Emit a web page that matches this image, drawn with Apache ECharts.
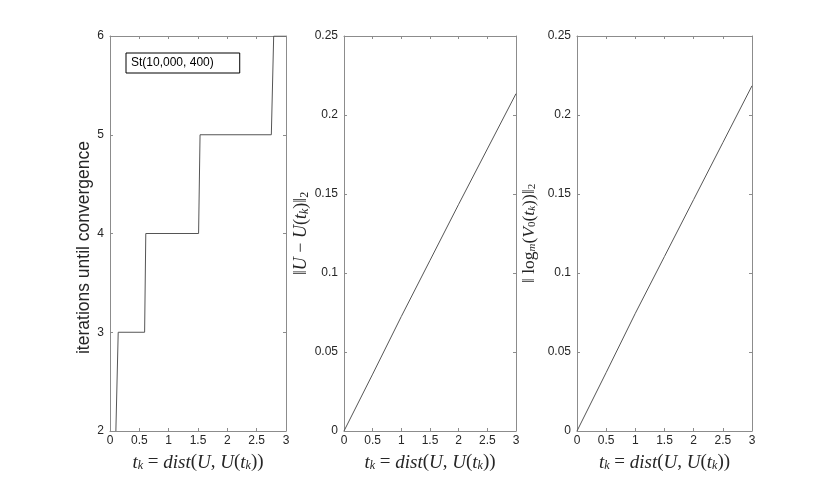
<!DOCTYPE html>
<html>
<head>
<meta charset="utf-8">
<script src="https://cdn.jsdelivr.net/npm/echarts@6/dist/echarts.min.js"></script>
<style>
  html, body { margin: 0; background: #fff; }
  #chart { width: 830px; height: 485px; }
</style>
</head>
<body>
<div id="chart"></div>
<script>
// panel 1: iterations until convergence (step curve)
var stepT = [0.1, 0.14, 0.59, 0.61, 1.51, 1.535, 2.75, 2.79, 3];
var stepIter = [2, 3, 3, 4, 4, 5, 5, 6, 6];
var seriesName = 'St(10,000, 400)';

// panels 2 and 3
var tk = [0, 0.5, 1, 1.5, 2, 2.5, 3];
var normU = [0, 0.036, 0.0725, 0.108, 0.1435, 0.1785, 0.2135];
var normLog = [0, 0.037, 0.0745, 0.1105, 0.1465, 0.1825, 0.2185];

// axis limits [min, max, interval]
var xLim = [0, 3, 0.5];
var yLim1 = [2, 6, 1];
var yLim2 = [0, 0.25, 0.05];

var frameColor = '#8c8c8c';
var textColor = '#262626';
var lineColor = '#555555';

function pairs(xs, ys) {
  return xs.map((x, i) => [x, ys[i]]);
}

function mathStyles(size) {
  var sub = Math.round(size * 0.65);
  return {
    n: { fontFamily: 'Liberation Serif', fontSize: size, color: textColor },
    i: { fontFamily: 'Liberation Serif', fontStyle: 'italic', fontSize: size, color: textColor },
    s: { fontFamily: 'Liberation Serif', fontStyle: 'italic', fontSize: sub, color: textColor, verticalAlign: 'bottom', padding: [6, 0, 0, 0] },
    r: { fontFamily: 'Liberation Serif', fontSize: sub, color: textColor, verticalAlign: 'bottom', padding: [6, 0, 0, 0] }
  };
}

var xName = '{i|t}{s|k}{n| = }{i|dist}{n|(}{i|U}{n|, }{i|U}{n|(}{i|t}{s|k}{n|))}';
var yName2 = '{n|‖}{i|U}{n| − }{i|U}{n|(}{i|t}{s|k}{n|)‖}{r|2}';
var yName3 = '{n|‖ log}{s|m}{n|(}{i|V}{r|0}{n|(}{i|t}{s|k}{n|))‖}{r|2}';

// one pair of x axes (bottom + mirrored top) per grid
function xAxes(gi) {
  var base = {
    type: 'value', gridIndex: gi, min: xLim[0], max: xLim[1], interval: xLim[2],
    splitLine: { show: false },
    axisLine: { show: true, onZero: false, lineStyle: { color: frameColor, width: 1 } },
    axisTick: { show: true, inside: true, length: 3, lineStyle: { color: frameColor } }
  };
  return [
    Object.assign({}, base, {
      position: 'bottom',
      axisLabel: { color: textColor, fontSize: 12, fontFamily: 'Liberation Sans', margin: 4 },
      name: xName, nameLocation: 'middle', nameGap: 22,
      nameTextStyle: { rich: mathStyles(19) }
    }),
    Object.assign({}, base, { position: 'top', axisLabel: { show: false } })
  ];
}

function yAxes(gi, lim, name, gap, nts) {
  var base = {
    type: 'value', gridIndex: gi, min: lim[0], max: lim[1], interval: lim[2],
    splitLine: { show: false },
    axisLine: { show: true, onZero: false, lineStyle: { color: frameColor, width: 1 } },
    axisTick: { show: true, inside: true, length: 3, lineStyle: { color: frameColor } }
  };
  return [
    Object.assign({}, base, {
      position: 'left',
      axisLabel: { color: textColor, fontSize: 12, fontFamily: 'Liberation Sans', margin: 6 },
      name: name, nameLocation: 'middle', nameGap: gap, nameRotate: 90,
      nameTextStyle: nts
    }),
    Object.assign({}, base, { position: 'right', axisLabel: { show: false } })
  ];
}

var chart = echarts.init(document.getElementById('chart'));
var option = {
  backgroundColor: '#fff',
  animation: false,
  grid: [
    { left: 110, top: 36, width: 176, height: 395 },
    { left: 344, top: 36, width: 172, height: 395 },
    { left: 577, top: 36, width: 175, height: 395 }
  ],
  legend: {
    left: 126, top: 53,
    data: [{ name: seriesName, icon: 'none' }],
    itemWidth: 0, itemHeight: 0,
    padding: [4, 26, 4, 0],
    borderColor: '#000', borderWidth: 1, backgroundColor: '#fff',
    textStyle: { color: '#000', fontSize: 12, fontFamily: 'Liberation Sans' }
  },
  xAxis: [].concat(xAxes(0), xAxes(1), xAxes(2)),
  yAxis: [].concat(
    yAxes(0, yLim1, 'iterations until convergence', 14,
      { fontFamily: 'Liberation Sans', fontSize: 17.5, color: textColor, padding: [0, 28, 0, 0] }),
    yAxes(1, yLim2, yName2, 33, { rich: mathStyles(18) }),
    yAxes(2, yLim2, yName3, 39, { rich: mathStyles(17.5) })
  ),
  series: [
    {
      name: seriesName, type: 'line', xAxisIndex: 0, yAxisIndex: 0,
      data: pairs(stepT, stepIter), showSymbol: false,
      lineStyle: { color: lineColor, width: 1 }, itemStyle: { color: lineColor }
    },
    {
      name: 'dist', type: 'line', xAxisIndex: 2, yAxisIndex: 2,
      data: pairs(tk, normU), showSymbol: false,
      lineStyle: { color: lineColor, width: 1 }
    },
    {
      name: 'log', type: 'line', xAxisIndex: 4, yAxisIndex: 4,
      data: pairs(tk, normLog), showSymbol: false,
      lineStyle: { color: lineColor, width: 1 }
    }
  ]
};
chart.setOption(option);
</script>
</body>
</html>
